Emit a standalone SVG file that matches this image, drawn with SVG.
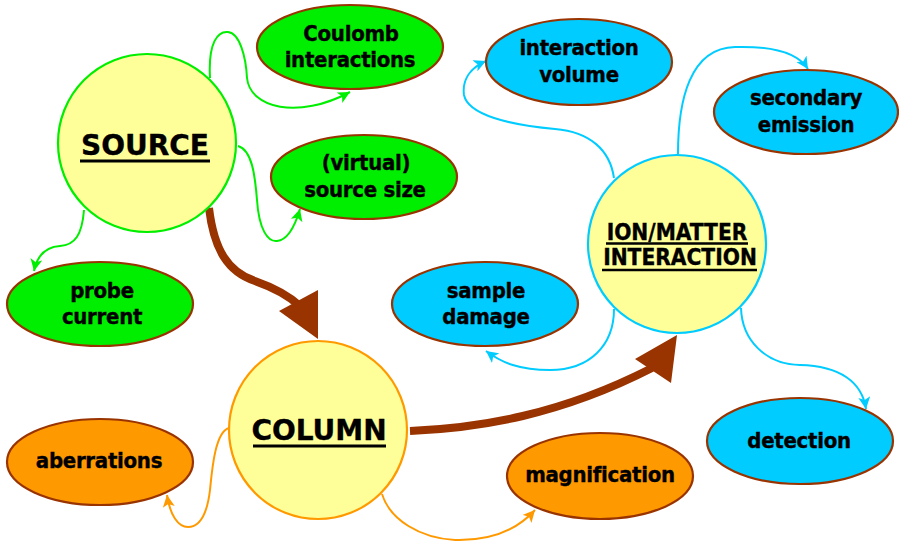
<svg xmlns="http://www.w3.org/2000/svg" width="899" height="545" viewBox="0 0 899 545">
<style>
text{font-family:"DejaVu Sans Condensed","DejaVu Sans","Liberation Sans",sans-serif;font-weight:bold;fill:#000;text-anchor:middle;font-stretch:condensed;stroke:#000;stroke-width:0.35}
.lbl{font-size:22px;letter-spacing:-0.3px}
.title{font-size:28px;font-family:"DejaVu Sans","Liberation Sans",sans-serif;font-stretch:normal}
.title2{font-size:22.5px}
.ul{stroke:#000;stroke-width:3}
.hub{fill:#ffff99;stroke-width:2.2}
.leaf{stroke:#993300;stroke-width:2.2}
.g{fill:#00ee00}.c{fill:#00ccff}.o{fill:#ff9900}
.lg{fill:none;stroke:#00ee00;stroke-width:2}
.lc{fill:none;stroke:#00ccff;stroke-width:2}
.lo{fill:none;stroke:#ff9900;stroke-width:2}
.big{fill:none;stroke:#993300;stroke-width:8}
</style>
<defs>
<marker id="ag" markerUnits="userSpaceOnUse" markerWidth="14" markerHeight="12" refX="12" refY="6" orient="auto"><path d="M0,0 L12,6 L0,12 L3,6 Z" fill="#00ee00"/></marker>
<marker id="ac" markerUnits="userSpaceOnUse" markerWidth="14" markerHeight="12" refX="12" refY="6" orient="auto"><path d="M0,0 L12,6 L0,12 L3,6 Z" fill="#00ccff"/></marker>
<marker id="ao" markerUnits="userSpaceOnUse" markerWidth="14" markerHeight="12" refX="12" refY="6" orient="auto"><path d="M0,0 L12,6 L0,12 L3,6 Z" fill="#ff9900"/></marker>
</defs>
<g id="connectors">
<path class="lg" marker-end="url(#ag)" d="M210,78 C208,42 218,31 228,32 C240,33 246,58 247,78 C250,108 298,120 350,92"/>
<path class="lg" marker-end="url(#ag)" d="M238,146 C252,150 255,175 257,200 C259,230 268,242 277,241 C288,240 295,226 300,209"/>
<path class="lg" marker-end="url(#ag)" d="M84,210 C82,235 75,245 60,246 C45,247 37,256 34,271"/>
<path class="lc" marker-end="url(#ac)" d="M614,178 C610,150 590,132 555,129 C510,125 468,115 464,95 C462,80 470,68 486,61"/>
<path class="lc" marker-end="url(#ac)" d="M678,154 C678,100 690,48 735,47 C770,46 797,52 808,69"/>
<path class="lc" marker-end="url(#ac)" d="M614,309 C614,345 590,370 550,370 C520,370 502,363 486,351"/>
<path class="lc" marker-end="url(#ac)" d="M741,308 C742,340 765,364 800,365 C840,366 862,382 866,409"/>
<path class="lo" marker-end="url(#ao)" d="M229,428 C215,432 212,470 210,490 C207,515 200,527 188,527 C178,527 170,515 167,495"/>
<path class="lo" marker-end="url(#ao)" d="M382,494 C390,520 420,538 455,540 C490,541 517,530 535,510"/>
<path class="big" d="M209,208 C214,250 228,272 255,281 C275,288 288,295 300,306"/>
<polygon points="279,311 318,290 318,339" fill="#993300"/>
<path class="big" d="M410,431 C480,428 560,415 652,368"/>
<polygon points="635,359 677,335 671,383" fill="#993300"/>
</g>
<g id="source">
<circle class="hub" cx="147" cy="143" r="89" stroke="#00ee00"/>
<text class="title" x="145" y="155">SOURCE</text>
<line class="ul" x1="80" y1="161" x2="210" y2="161"/>
</g>
<g id="column">
<circle class="hub" cx="318" cy="430" r="89" stroke="#ff9900"/>
<text class="title" x="319" y="440">COLUMN</text>
<line class="ul" x1="253" y1="446" x2="386" y2="446"/>
</g>
<g id="ion-matter">
<circle class="hub" cx="677" cy="244" r="89" stroke="#00ccff"/>
<text class="title2" x="677" y="240">ION/MATTER</text>
<line class="ul" x1="606" y1="243.5" x2="748" y2="243.5" style="stroke-width:2.5"/>
<text class="title2" x="680" y="265">INTERACTION</text>
<line class="ul" x1="602" y1="270" x2="757" y2="270" style="stroke-width:2.5"/>
</g>
<g id="coulomb">
<ellipse class="leaf g" cx="350" cy="47" rx="93" ry="42"/>
<text class="lbl" x="351" y="41">Coulomb</text>
<text class="lbl" x="350" y="67">interactions</text>
</g>
<g id="virtual-source">
<ellipse class="leaf g" cx="364" cy="177" rx="93" ry="42"/>
<text class="lbl" x="366" y="170">(virtual)</text>
<text class="lbl" x="365" y="197">source size</text>
</g>
<g id="probe-current">
<ellipse class="leaf g" cx="100" cy="304" rx="93" ry="42"/>
<text class="lbl" x="102" y="298">probe</text>
<text class="lbl" x="102" y="324">current</text>
</g>
<g id="aberrations">
<ellipse class="leaf o" cx="100" cy="462" rx="93" ry="43"/>
<text class="lbl" x="99" y="468">aberrations</text>
</g>
<g id="magnification">
<ellipse class="leaf o" cx="600" cy="476" rx="93" ry="43"/>
<text class="lbl" x="600" y="482">magnification</text>
</g>
<g id="sample-damage">
<ellipse class="leaf c" cx="485" cy="304" rx="93" ry="42"/>
<text class="lbl" x="486" y="298">sample</text>
<text class="lbl" x="486" y="324">damage</text>
</g>
<g id="interaction-volume">
<ellipse class="leaf c" cx="579" cy="62" rx="93" ry="43"/>
<text class="lbl" x="579" y="55">interaction</text>
<text class="lbl" x="579" y="82">volume</text>
</g>
<g id="secondary-emission">
<ellipse class="leaf c" cx="806" cy="112" rx="92" ry="42"/>
<text class="lbl" x="806" y="105">secondary</text>
<text class="lbl" x="806" y="132">emission</text>
</g>
<g id="detection">
<ellipse class="leaf c" cx="800" cy="441" rx="93" ry="43"/>
<text class="lbl" x="799" y="448">detection</text>
</g>
</svg>
